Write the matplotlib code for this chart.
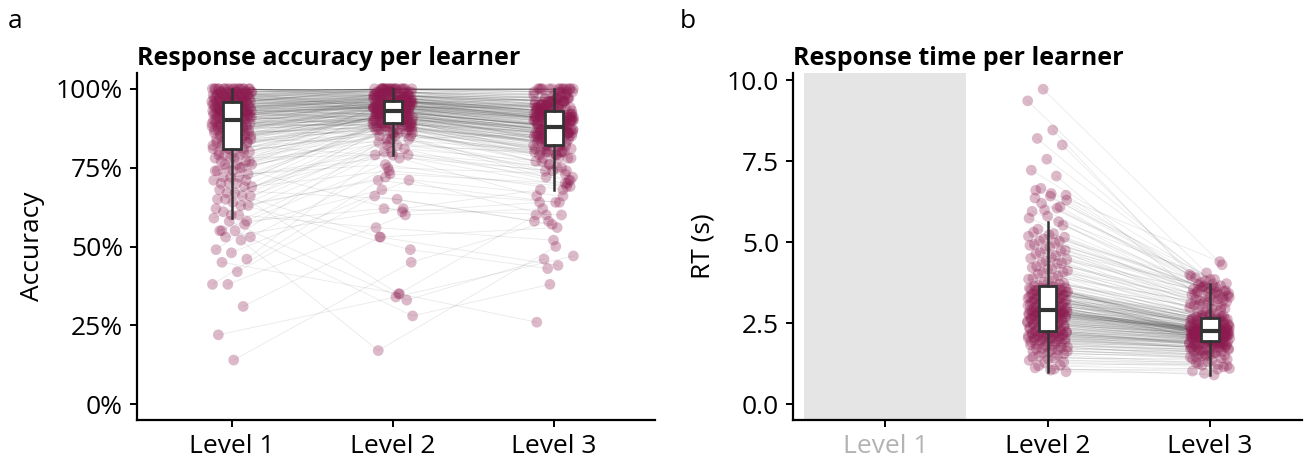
import matplotlib
matplotlib.use("Agg")
import matplotlib.pyplot as plt
from matplotlib.ticker import PercentFormatter
import numpy as np

plt.rcParams["font.family"] = ["Open Sans", "DejaVu Sans"]

LEVELS = ["Level 1", "Level 2", "Level 3"]

# Accuracy per learner (percent), one entry per learner across the three levels
acc_level1 = [
    14, 22, 31, 38, 38, 42, 45, 46, 48, 49,
    52, 53, 53, 55, 55, 57, 58, 59, 60, 61, 63, 64,
    65, 66, 67, 69, 70, 70, 71, 72, 74, 75, 76, 77, 78, 79, 80,
    81, 81, 82, 82, 83, 83, 83, 84, 84, 84, 85, 85, 85, 85, 86, 86, 86, 86,
    87, 87, 87, 87, 88, 88, 88, 88, 88, 89, 89, 89, 89, 89, 89, 90, 90, 90, 90, 90,
    91, 91, 91, 91, 91, 91, 91, 92, 92, 92, 92, 92, 92, 92, 92, 93, 93, 93, 93,
    93, 93, 93, 93, 94, 94, 94, 94, 94, 94, 94, 94, 95, 95, 95, 95, 95, 95,
    96, 96, 96, 96, 96, 96, 96, 97, 97, 97, 97, 97, 97, 97, 97, 98, 98, 98, 98,
    98, 98, 98, 99, 99, 99, 99, 99, 100, 100, 100, 100, 100, 100, 100, 100, 100, 100, 100,
    55, 58, 60, 62, 63, 65, 66, 67, 68, 69, 70, 71, 72, 72, 73,
    74, 74, 75, 75, 76, 76, 77, 77, 78, 78, 79, 79, 80, 80, 80,
    81, 81, 82, 82, 83, 83, 84, 84, 84, 85, 85, 85, 86, 86, 86,
    87, 87, 87, 87, 88, 88, 88, 88, 89, 89, 89, 89, 89, 90, 90,
    90, 91, 91, 91, 91, 91, 92, 92, 92, 92, 92, 92, 93, 93, 93,
    93, 93, 93, 94, 94, 94, 94, 94, 94, 94, 95, 95, 95, 95, 95,
    96, 96, 96, 96, 96, 96, 97, 97, 97, 97, 97, 97, 98, 98, 98,
    98, 98, 98, 99, 99, 99, 99, 99, 100, 100, 100, 100, 100, 100, 100,
]
acc_level2 = [
    45, 34, 53, 60, 73, 66, 35, 80, 71, 86,
    17, 62, 75, 28, 82, 68, 33, 84, 56, 90, 72, 49,
    85, 53, 81, 74, 88, 35, 90, 79, 86, 92, 61, 84, 89, 93, 87,
    86, 92, 79, 90, 88, 94, 91, 83, 93, 89, 90, 87, 95, 92, 91, 88, 96, 93,
    85, 92, 90, 94, 89, 97, 91, 93, 87, 92, 95, 90, 94, 88, 91, 96, 93, 90, 92, 89,
    93, 89, 95, 91, 96, 88, 94, 92, 97, 90, 94, 93, 95, 91, 96, 94, 92, 97,
    95, 90, 93, 98, 94, 96, 93, 95, 97, 91, 94, 98, 96, 95, 97, 93, 99, 96, 94,
    95, 94, 94, 98, 96, 100, 93, 97, 95, 96, 98, 95, 100, 93, 94, 99, 98, 96,
    100, 95, 95, 98, 100, 99, 94, 97, 100, 98, 100, 99, 96, 100, 97, 100, 98, 100, 99, 100,
    78, 62, 84, 88, 71, 90, 82, 86, 65, 89, 92, 80, 87, 91, 76,
    88, 93, 85, 90, 83, 94, 86, 89, 91, 79, 92, 88, 95, 87, 90,
    89, 93, 86, 91, 94, 88, 92, 95, 87, 90, 93, 89, 96, 91, 88,
    94, 92, 90, 95, 89, 93, 97, 91, 94, 90, 96, 92, 88, 95, 93,
    92, 95, 90, 96, 93, 97, 91, 94, 98, 92, 95, 96, 93, 99, 94,
    97, 95, 92, 98, 96, 94, 97, 93, 99, 95, 98, 96, 100, 94, 97,
    96, 98, 95, 99, 97, 100, 96, 98, 100, 97, 99, 95, 100, 98, 96,
    100, 99, 97, 100, 98, 96, 100, 99, 100, 97, 100, 98, 100, 99, 100,
]
acc_level3 = [
    58, 47, 44, 62, 70, 57, 26, 75, 60, 81,
    50, 68, 73, 38, 80, 64, 46, 86, 52, 88, 66, 43,
    72, 56, 77, 69, 84, 60, 82, 74, 71, 87, 64, 80, 83, 90, 78,
    78, 86, 74, 83, 80, 88, 85, 79, 87, 82, 84, 81, 90, 86, 85, 83, 91, 88,
    80, 87, 84, 89, 86, 92, 85, 88, 82, 87, 90, 86, 89, 83, 85, 91, 88, 84, 87, 86,
    88, 84, 91, 87, 92, 83, 90, 86, 93, 89, 91, 88, 92, 85, 94, 90, 87, 93,
    91, 86, 89, 95, 90, 92, 88, 91, 94, 87, 90, 95, 93, 91, 94, 89, 96, 92, 90,
    92, 95, 90, 96, 93, 98, 91, 94, 97, 93, 96, 92, 99, 95, 91, 97, 96, 94,
    100, 95, 93, 97, 100, 98, 94, 96, 100, 97, 100, 98, 95, 100, 96, 100, 97, 100, 99, 100,
    66, 60, 72, 78, 64, 80, 70, 76, 58, 82, 84, 71, 79, 85, 68,
    81, 86, 75, 83, 74, 88, 77, 80, 84, 69, 86, 79, 89, 76, 82,
    82, 87, 78, 85, 89, 80, 86, 90, 79, 84, 88, 83, 91, 85, 81,
    89, 86, 84, 90, 82, 87, 92, 85, 88, 83, 91, 86, 80, 90, 87,
    87, 91, 84, 92, 88, 93, 86, 90, 94, 87, 91, 92, 88, 95, 90,
    93, 91, 86, 94, 92, 89, 93, 88, 96, 91, 94, 92, 97, 89, 93,
    92, 95, 90, 96, 94, 98, 93, 95, 99, 94, 97, 91, 100, 96, 93,
    99, 97, 95, 100, 96, 94, 99, 97, 100, 95, 100, 96, 100, 98, 100,
]

# Response time per learner (seconds); level 1 has no RT data
rt_level2 = [
    1.00, 1.05, 1.12, 1.20, 1.28, 1.35, 1.42, 1.48, 1.55, 1.60,
    1.64, 1.68, 1.72, 1.76, 1.80, 1.84, 1.87, 1.90, 1.93, 1.96, 1.98,
    2.01, 2.03, 2.05, 2.07, 2.09, 2.11, 2.13, 2.14, 2.16, 2.17, 2.19, 2.20, 2.21, 2.23, 2.24, 2.25,
    2.27, 2.30, 2.33, 2.35, 2.38, 2.40, 2.42, 2.45, 2.47, 2.50,
    2.52, 2.54, 2.56, 2.58, 2.60, 2.62, 2.64, 2.66, 2.68, 2.70,
    2.71, 2.73, 2.74, 2.76, 2.77, 2.79, 2.80, 2.81, 2.82, 2.83,
    2.84, 2.85, 2.86, 2.87, 2.88, 2.88, 2.89, 2.89,
    2.91, 2.94, 2.95, 2.98, 3.00, 3.02, 3.05, 3.06, 3.09, 3.10,
    3.12, 3.15, 3.16, 3.18, 3.21, 3.22, 3.25, 3.26, 3.28, 3.31,
    3.32, 3.34, 3.37, 3.38, 3.40, 3.42, 3.44, 3.47, 3.48, 3.50,
    3.52, 3.54, 3.55, 3.57, 3.59, 3.60, 3.61,
    3.64, 3.71, 3.77, 3.86, 3.90, 4.02, 4.07, 4.16, 4.21, 4.33, 4.37, 4.46,
    4.53, 4.64, 4.72, 4.78, 4.90, 4.97, 5.04, 5.15, 5.22, 5.31, 5.63,
    9.72, 9.36, 8.46, 8.20, 8.00, 7.56, 7.22, 7.04, 6.66, 6.45, 6.42, 6.36, 6.09, 5.99, 5.74,
    1.08, 1.18, 1.30, 1.38, 1.45, 1.52, 1.58, 1.63, 1.67, 1.71, 1.75, 1.79, 1.83, 1.86, 1.89,
    1.92, 1.95, 1.97, 2.00, 2.02, 2.04, 2.06, 2.09, 2.12, 2.14, 2.16, 2.18, 2.20, 2.22, 2.24,
    2.26, 2.29, 2.32, 2.36, 2.39, 2.41, 2.44, 2.46, 2.49, 2.51, 2.53, 2.55, 2.57, 2.59, 2.61,
    2.63, 2.65, 2.67, 2.69, 2.72, 2.73, 2.75, 2.78, 2.79, 2.81, 2.83, 2.84, 2.85, 2.86, 2.87,
    2.90, 2.92, 2.96, 2.99, 3.01, 3.04, 3.07, 3.08, 3.11, 3.14, 3.17, 3.19, 3.20, 3.23, 3.24,
    3.27, 3.30, 3.33, 3.35, 3.36, 3.39, 3.41, 3.43, 3.46, 3.49, 3.51, 3.53, 3.56, 3.58, 3.62,
    3.66, 3.73, 3.80, 3.88, 3.95, 4.05, 4.12, 4.18, 4.25, 4.35, 4.42, 4.50, 4.58, 4.68, 4.75,
    4.85, 4.93, 5.02, 5.10, 5.18, 5.26, 5.40, 5.52, 5.80, 5.95, 6.05, 6.20, 6.30, 6.50, 6.60,
]
rt_level3 = [
    0.95, 1.10, 0.90, 1.25, 1.15, 1.30, 1.40, 1.22, 1.50, 1.38,
    1.55, 1.45, 1.62, 1.48, 1.70, 1.58, 1.66, 1.75, 1.60, 1.80, 1.72,
    1.85, 1.68, 1.90, 1.78, 1.82, 1.95, 1.74, 1.88, 2.00, 1.84, 1.92, 2.05, 1.86, 1.98, 1.90, 2.08,
    1.85, 2.10, 1.92, 2.15, 1.98, 2.05, 2.20, 1.90, 2.12, 2.25,
    2.02, 2.18, 1.95, 2.22, 2.08, 2.30, 2.14, 2.00, 2.26, 2.16,
    2.35, 2.10, 2.28, 2.19, 2.05, 2.32, 2.24, 2.13, 2.38, 2.21,
    2.27, 2.15, 2.40, 2.23, 2.30, 2.17, 2.34, 2.26,
    2.05, 2.30, 2.12, 2.45, 2.20, 2.15, 2.38, 2.08, 2.52, 2.25,
    2.10, 2.42, 2.18, 2.60, 2.28, 2.02, 2.48, 2.35, 2.14, 2.55,
    2.22, 2.40, 2.65, 2.30, 2.16, 2.50, 2.70, 2.33, 2.58, 2.44,
    2.20, 2.62, 2.75, 2.36, 2.54, 2.68, 2.46,
    2.40, 2.85, 2.55, 2.95, 2.62, 3.05, 2.72, 3.15, 2.80, 3.22, 2.90, 3.30,
    2.98, 3.40, 3.08, 3.48, 3.15, 3.55, 3.25, 3.62, 3.35, 3.70, 3.45,
    4.30, 4.05, 3.95, 3.60, 3.75, 3.50, 3.85, 3.40, 4.40, 3.65, 3.30, 3.55, 3.70, 3.20, 3.45,
    1.02, 1.08, 1.20, 1.18, 1.35, 1.28, 1.42, 1.52, 1.45, 1.60, 1.55, 1.50, 1.68, 1.62, 1.76,
    1.66, 1.72, 1.82, 1.70, 1.88, 1.78, 1.74, 1.92, 1.84, 1.80, 1.96, 1.86, 1.90, 2.02, 1.88,
    1.88, 2.05, 1.94, 2.12, 1.99, 2.08, 2.18, 1.92, 2.14, 2.22, 2.00, 2.16, 2.06, 2.24, 2.10,
    2.28, 2.04, 2.19, 2.32, 2.13, 2.26, 2.09, 2.36, 2.20, 2.30, 2.15, 2.40, 2.22, 2.34, 2.18,
    2.08, 2.25, 2.14, 2.40, 2.18, 2.32, 2.46, 2.12, 2.52, 2.28, 2.20, 2.44, 2.36, 2.58, 2.24,
    2.50, 2.30, 2.62, 2.42, 2.34, 2.56, 2.27, 2.66, 2.48, 2.38, 2.60, 2.45, 2.72, 2.54, 2.64,
    2.50, 2.78, 2.62, 2.92, 2.70, 3.00, 2.84, 3.10, 2.76, 3.18, 2.95, 3.28, 3.05, 3.36, 3.12,
    3.42, 3.20, 3.50, 3.30, 3.58, 3.38, 3.46, 3.60, 3.72, 3.55, 3.90, 3.65, 3.80, 4.00, 3.85,
]

POINT_COLOR = "#8c1a4f"
LINE_COLOR = "#3a3a3a"
BOX_EDGE = "#333333"


def jitter(n, level, width=0.25):
    """Deterministic horizontal spread so points don't stack on one line."""
    idx = np.arange(n)
    frac = (idx * 0.6180339 + level * 0.4142136 + 0.13) % 1.0
    return (frac - 0.5) * width


def draw_panel(ax, positions, series):
    n = len(series[0])
    xs = [pos + jitter(n, pos) for pos in positions]
    ys = [np.asarray(s, dtype=float) for s in series]

    # one thin line per learner connecting their levels
    for i in range(n):
        ax.plot([x[i] for x in xs], [y[i] for y in ys],
                color=LINE_COLOR, alpha=0.11, lw=0.6, zorder=1)

    for x, y in zip(xs, ys):
        ax.scatter(x, y, s=60, color=POINT_COLOR, alpha=0.3,
                   edgecolors="none", zorder=2)

    ax.boxplot(ys, positions=positions, widths=0.11, whis=1.5,
               showfliers=False, showcaps=False, patch_artist=True,
               boxprops=dict(facecolor="white", edgecolor=BOX_EDGE, linewidth=2),
               medianprops=dict(color=BOX_EDGE, linewidth=3),
               whiskerprops=dict(color=BOX_EDGE, linewidth=1.8),
               zorder=3)


def style_axes(ax, title, ylabel):
    for side in ("top", "right"):
        ax.spines[side].set_visible(False)
    for side in ("left", "bottom"):
        ax.spines[side].set_linewidth(1.6)
        ax.spines[side].set_color("black")
    ax.tick_params(axis="both", labelsize=19, length=5, width=1.4,
                   color="black", labelcolor="black", pad=5)
    ax.set_xticks([1, 2, 3])
    ax.set_xticklabels(LEVELS)
    ax.set_title(title, loc="left", fontsize=18, fontweight="bold", pad=6)
    ax.set_ylabel(ylabel, fontsize=19, labelpad=8)


fig = plt.figure(figsize=(13.08, 4.65), dpi=100)

ax_acc = fig.add_axes([137 / 1308, 45 / 465, 518 / 1308, 347 / 465])
draw_panel(ax_acc, [1, 2, 3],
           [np.array(acc_level1) / 100, np.array(acc_level2) / 100, np.array(acc_level3) / 100])
ax_acc.set_xlim(0.41, 3.63)
ax_acc.set_ylim(-0.05, 1.05)
ax_acc.set_yticks([0, 0.25, 0.5, 0.75, 1.0])
ax_acc.yaxis.set_major_formatter(PercentFormatter(1.0, decimals=0))
style_axes(ax_acc, "Response accuracy per learner", "Accuracy")

ax_rt = fig.add_axes([793 / 1308, 45 / 465, 509 / 1308, 347 / 465])
ax_rt.axvspan(0.5, 1.5, color="#e5e5e5", lw=0, zorder=0)
draw_panel(ax_rt, [2, 3], [rt_level2, rt_level3])
ax_rt.set_xlim(0.43, 3.57)
ax_rt.set_ylim(-0.49, 10.22)
ax_rt.set_yticks([0, 2.5, 5, 7.5, 10])
ax_rt.set_yticklabels(["0.0", "2.5", "5.0", "7.5", "10.0"])
style_axes(ax_rt, "Response time per learner", "RT (s)")
ax_rt.get_xticklabels()[0].set_color("#b3b3b3")

fig.text(8 / 1308, 1 - 28 / 465, "a", fontsize=19)
fig.text(680 / 1308, 1 - 28 / 465, "b", fontsize=19)

fig.savefig("out.png", dpi=100)
